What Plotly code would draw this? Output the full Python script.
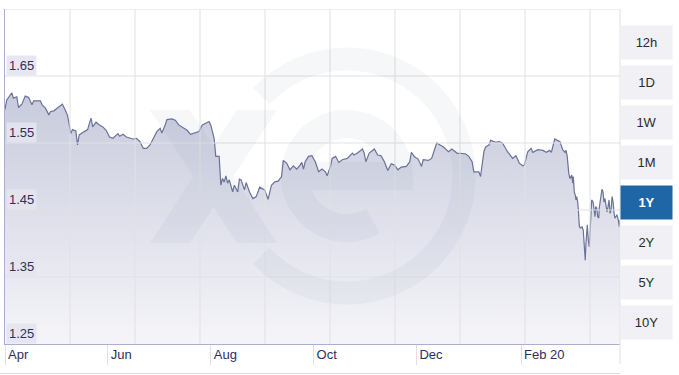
import numpy as np
import pandas as pd
import plotly.graph_objects as go

# ---------------- data ----------------
start_date = "2019-04-01"
day_offsets = [
    0, 1, 4, 5, 7, 8, 10, 12, 14, 16, 17, 19, 21, 22, 24, 26, 27, 29, 32, 34,
    35, 37, 38, 39, 40, 42, 43, 44, 47, 49, 50, 51, 52, 54, 56, 58, 60, 62, 64, 67,
    68, 70, 72, 74, 76, 78, 80, 82, 84, 86, 88, 90, 92, 93, 95, 96, 99, 101, 103, 106,
    108, 110, 112, 115, 117, 119, 121, 122, 124, 125, 127, 128, 129, 130, 131, 132, 133, 135, 136, 138,
    139, 140, 142, 143, 145, 147, 149, 151, 154, 156, 158, 160, 162, 164, 165, 167, 169, 171, 173, 175,
    176, 177, 178, 180, 182, 184, 186, 188, 190, 191, 193, 194, 196, 198, 200, 203, 206, 207, 209, 212,
    213, 214, 216, 219, 221, 223, 225, 227, 229, 231, 233, 235, 238, 240, 241, 243, 245, 247, 248, 251,
    253, 256, 258, 260, 263, 265, 268, 271, 273, 275, 277, 278, 281, 282, 284, 285, 287, 288, 291, 293,
    295, 298, 301, 303, 305, 307, 308, 310, 312, 313, 316, 319, 321, 323, 324, 326, 328,
    329.1, 330.7, 332.1, 332.7, 333.4, 334.3, 335.0, 336.1, 336.7, 337.0, 337.6, 338.2, 338.6, 339.0,
    339.6, 340.0, 340.6, 341.4, 342.2, 342.9, 343.3, 343.8, 344.1, 344.5, 344.9, 345.3, 345.9, 346.5,
    346.9, 347.5, 347.9, 348.7, 349.3, 349.9, 350.3, 350.9, 351.5, 352.1, 352.4, 352.8, 353.4, 354.0,
    354.6, 355.2, 355.8, 356.4, 357.0, 357.6, 358.2, 358.8, 359.4, 360.0, 360.6, 361.2, 361.7, 362.3,
    362.9, 363.7, 364.3, 364.7,
]
rates = [
    1.600, 1.614, 1.625, 1.617, 1.619, 1.603, 1.608, 1.620, 1.618, 1.607, 1.613, 1.613, 1.613, 1.607, 1.602, 1.592, 1.597, 1.598, 1.604, 1.608,
    1.603, 1.592, 1.579, 1.564, 1.570, 1.568, 1.547, 1.562, 1.567, 1.570, 1.579, 1.587, 1.574, 1.581, 1.577, 1.574, 1.569, 1.559, 1.557, 1.564,
    1.560, 1.563, 1.559, 1.557, 1.556, 1.557, 1.552, 1.542, 1.542, 1.547, 1.556, 1.567, 1.572, 1.565, 1.577, 1.585, 1.586, 1.584, 1.577, 1.572,
    1.569, 1.563, 1.565, 1.567, 1.577, 1.579, 1.582, 1.577, 1.557, 1.530, 1.530, 1.487, 1.497, 1.492, 1.501, 1.490, 1.495, 1.477, 1.487, 1.477,
    1.496, 1.495, 1.480, 1.491, 1.477, 1.467, 1.470, 1.484, 1.480, 1.466, 1.487, 1.492, 1.493, 1.500, 1.524, 1.520, 1.510, 1.516, 1.511, 1.517,
    1.521, 1.511, 1.522, 1.530, 1.531, 1.522, 1.507, 1.511, 1.507, 1.501, 1.515, 1.527, 1.530, 1.521, 1.525, 1.527, 1.535, 1.532, 1.535, 1.541,
    1.535, 1.522, 1.535, 1.541, 1.532, 1.531, 1.522, 1.509, 1.519, 1.517, 1.510, 1.514, 1.515, 1.522, 1.536, 1.529, 1.526, 1.515, 1.525, 1.524,
    1.527, 1.550, 1.547, 1.544, 1.537, 1.541, 1.535, 1.535, 1.534, 1.530, 1.522, 1.507, 1.507, 1.500, 1.537, 1.544, 1.547, 1.554, 1.551, 1.552,
    1.550, 1.537, 1.527, 1.531, 1.520, 1.516, 1.517, 1.537, 1.542, 1.536, 1.540, 1.539, 1.536, 1.539, 1.536, 1.556, 1.553,
    1.552, 1.540, 1.536, 1.539, 1.530, 1.505, 1.497, 1.502, 1.490, 1.500, 1.477, 1.472, 1.465, 1.470,
    1.462, 1.450, 1.425, 1.423, 1.425, 1.420, 1.405, 1.383, 1.375, 1.400, 1.420, 1.428, 1.405, 1.395,
    1.415, 1.445, 1.465, 1.462, 1.450, 1.440, 1.455, 1.453, 1.440, 1.438, 1.453, 1.462, 1.470, 1.481,
    1.477, 1.462, 1.467, 1.457, 1.447, 1.455, 1.465, 1.445, 1.450, 1.470, 1.462, 1.445, 1.438, 1.440,
    1.443, 1.435, 1.425, 1.435,
]
range_days = 364.7
y_range = [1.25, 1.75]
y_grid_values = [1.35, 1.45, 1.55, 1.65, 1.75]
y_label_values = [1.25, 1.35, 1.45, 1.55, 1.65]
y_label_texts = ["1.25", "1.35", "1.45", "1.55", "1.65"]
x_tick_dates = ["2019-04-01", "2019-06-01", "2019-08-01", "2019-10-01", "2019-12-01", "2020-02-01"]
x_tick_texts = ["Apr", "Jun", "Aug", "Oct", "Dec", "Feb 20"]
periods = ["12h", "1D", "1W", "1M", "1Y", "2Y", "5Y", "10Y"]
active_period = "1Y"

# ---------------- layout geometry ----------------
W, H = 679, 375
ML, MR, MT, MB = 5, 59, 9, 31
PW, PH = W - ML - MR, H - MT - MB
FONT = "Liberation Sans, Arial, sans-serif"
GRID = "#e1e1e4"
AXIS = "#aaaed2"


def px_x(px):
    return (px - ML) / PW


def px_y(py):
    return (H - MB - py) / PH


dates = pd.Timestamp(start_date) + pd.to_timedelta(day_offsets, unit="D")
x_end = pd.Timestamp(start_date) + pd.to_timedelta(range_days, unit="D")

fig = go.Figure()
fig.add_trace(go.Scatter(
    x=dates, y=rates, mode="lines",
    line=dict(color="#6a7298", width=1.2),
    fill="tozeroy",
    fillgradient=dict(type="vertical",
                      colorscale=[[0, "rgb(245,245,249)"], [1, "rgb(200,203,220)"]],
                      start=1.25, stop=1.62),
    hoverinfo="skip", showlegend=False,
))

shapes = []
# horizontal grid lines
for v in y_grid_values:
    shapes.append(dict(type="line", xref="paper", yref="y", x0=0, x1=1, y0=v, y1=v,
                       line=dict(color=GRID, width=1), layer="above"))
# vertical grid lines (uniform spacing 65px)
k = 1
while ML + 65 * k < ML + PW - 5:
    xp = 65 * k / PW
    shapes.append(dict(type="line", xref="paper", yref="paper", x0=xp, x1=xp, y0=0, y1=1,
                       line=dict(color=GRID, width=1), layer="above"))
    k += 1
# right border (through label band)
shapes.append(dict(type="line", xref="paper", yref="paper", x0=1, x1=1, y0=px_y(364), y1=1,
                   line=dict(color=GRID, width=1), layer="above"))
# bottom rule
shapes.append(dict(type="line", xref="paper", yref="paper", x0=px_x(0), x1=1, y0=px_y(373.5), y1=px_y(373.5),
                   line=dict(color="#dcdcdc", width=1), layer="above"))

# watermark (xe logo, faint)
WM = "rgba(110,115,150,0.06)"
cx, cy = 347, 176
th = np.radians(np.linspace(137, -137, 120))
ring = [(cx + 117 * np.cos(t), cy - 117 * np.sin(t)) for t in th]
path = "M " + " L ".join(f"{px_x(a):.5f},{px_y(b):.5f}" for a, b in ring)
shapes.append(dict(type="path", xref="paper", yref="paper", path=path,
                   line=dict(color=WM, width=23), layer="above"))
th = np.radians(np.linspace(0, 300, 100))
epts = [(296, cy), (cx + 52, cy)] + [(cx + 52 * np.cos(t), cy - 52 * np.sin(t)) for t in th]
path = "M " + " L ".join(f"{px_x(a):.5f},{px_y(b):.5f}" for a, b in epts)
shapes.append(dict(type="path", xref="paper", yref="paper", path=path,
                   line=dict(color=WM, width=28), layer="above"))
arm1 = [(150, 110), (190, 110), (277, 243), (237, 243)]
arm2 = [(237, 110), (277, 110), (190, 243), (150, 243)]
path = ""
for arm in (arm1, arm2):
    path += "M " + " L ".join(f"{px_x(a):.5f},{px_y(b):.5f}" for a, b in arm) + " Z "
shapes.append(dict(type="path", xref="paper", yref="paper", path=path.strip(),
                   fillcolor=WM, fillrule="nonzero", line=dict(width=0), layer="above"))

annotations = []
for v, t in zip(y_label_values, y_label_texts):
    annotations.append(dict(x=0, xref="paper", xanchor="left", xshift=1, y=v, yref="y", yanchor="bottom",
                            text=t, showarrow=False, bgcolor="rgba(228,228,240,0.9)", borderpad=2,
                            font=dict(family=FONT, size=13, color="#2f2f5c")))
for i, p in enumerate(periods):
    top = 25 + 40 * i
    active = p == active_period
    annotations.append(dict(x=1, xref="paper", xanchor="left", y=px_y(top), yref="paper", yanchor="top",
                            width=51, height=33, borderpad=0, showarrow=False,
                            text=f"<b>{p}</b>" if active else p,
                            bgcolor="#1f66a6" if active else "#f0f0f5",
                            font=dict(family=FONT, size=13, color="#ffffff" if active else "#2b2b2b"),
                            align="center", valign="middle"))

fig.update_layout(
    width=W, height=H,
    margin=dict(l=ML, r=MR, t=MT, b=MB),
    paper_bgcolor="white", plot_bgcolor="white",
    showlegend=False,
    shapes=shapes, annotations=annotations,
    font=dict(family=FONT),
    xaxis=dict(type="date", range=[pd.Timestamp(start_date), x_end],
               tickvals=x_tick_dates, ticktext=x_tick_texts,
               ticks="outside", ticklen=20, tickcolor=GRID, tickwidth=1,
               ticklabelposition="outside right", ticklabelstandoff=-2, ticklabelshift=2,
               tickfont=dict(family=FONT, size=13, color="#2e2e62"),
               showline=True, linecolor=AXIS, linewidth=1,
               showgrid=False, zeroline=False, fixedrange=True),
    yaxis=dict(range=y_range, showticklabels=False, ticks="", showgrid=False,
               showline=True, linecolor=AXIS, linewidth=1, zeroline=False, fixedrange=True),
)

fig.write_html("out.html", config={"displayModeBar": False})
